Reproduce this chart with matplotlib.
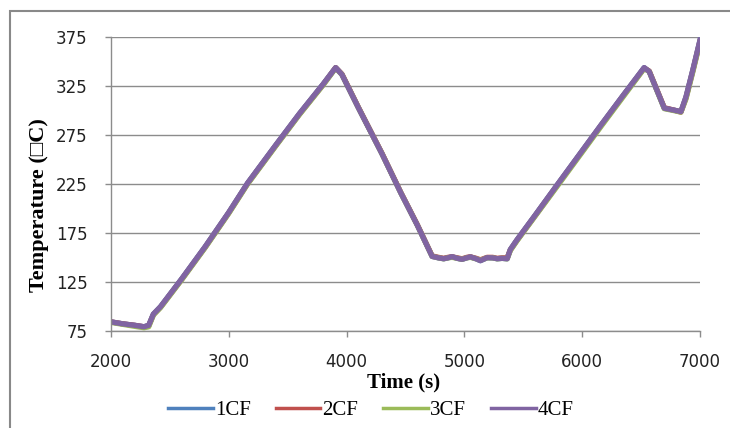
import matplotlib.pyplot as plt
import matplotlib.patches as mpatches

# time (s)
time_s = [2000, 2100, 2200, 2280, 2320, 2360, 2420, 2600, 2800, 3000, 3160, 3400,
          3600, 3800, 3907, 3960, 4100, 4300, 4460, 4600, 4726, 4780, 4824, 4860,
          4895, 4940, 4980, 5020, 5051, 5100, 5136, 5193, 5240, 5278, 5320, 5363,
          5390, 5447, 5600, 5787, 6000, 6158, 6350, 6526, 6569, 6697, 6780, 6838,
          6881, 6940, 7000]

# temperatures for each case
temp_1cf = [84, 82, 80.5, 79, 80.5, 92, 99.5, 128, 161, 196, 226, 265,
            297, 327, 344, 337, 303, 256, 216, 183, 151, 149.5, 148.6, 149.5,
            150.7, 149, 148, 149.5, 150.5, 148.5, 146.6, 149.7, 149.5, 148.6, 149, 148.6,
            158, 168, 193, 224, 259, 285, 316, 344, 340, 302.5, 300.5, 299,
            314, 342, 372]
temp_2cf = [84, 82, 80.5, 79, 80, 91.5, 99, 127.5, 160.5, 195.5, 225.5, 264.5,
            296.5, 326.5, 344, 337.5, 303.5, 256.5, 216.5, 183.5, 151.5, 150, 149, 150,
            150.5, 149.5, 148.5, 150, 150.5, 149, 147.5, 150, 150, 149, 149.5, 149.5,
            157.5, 167.5, 192.5, 223.5, 258.5, 284.5, 315.5, 343.5, 340.5, 303, 300.5, 298.5,
            313, 341, 371]
temp_3cf = [83.5, 81.5, 79.5, 78, 79, 91, 98.5, 127, 160, 195, 225, 264,
            296, 326, 343.5, 337, 303, 256, 216, 183, 151, 149.5, 148.5, 149.5,
            150, 149, 148, 149.5, 150, 148.5, 147, 149.5, 149.5, 148.5, 149, 148.5,
            157, 167, 192, 222.5, 257.5, 283.5, 314.5, 343, 340, 302, 300, 298.5,
            312, 340, 370]
temp_4cf = [84, 82, 80.5, 79, 80.5, 92, 99.5, 128, 161, 196, 226, 265,
            297, 327, 344, 337, 303, 256, 216, 183, 151, 149.5, 148.6, 149.5,
            150.7, 149, 148, 149.5, 150.5, 148.5, 146.6, 149.7, 149.5, 148.6, 149, 148.6,
            158, 168, 193, 224, 259, 285, 316, 344, 340, 302.5, 300.5, 299,
            314, 342, 372]

series = [('1CF', temp_1cf, '#4F81BD'),
          ('2CF', temp_2cf, '#C0504D'),
          ('3CF', temp_3cf, '#9BBB59'),
          ('4CF', temp_4cf, '#8064A2')]

x_ticks = [2000, 3000, 4000, 5000, 6000, 7000]
y_ticks = [75, 125, 175, 225, 275, 325, 375]

serif = ['Liberation Serif', 'DejaVu Serif']

fig = plt.figure(figsize=(7.3, 4.28), dpi=100)
ax = fig.add_axes([111 / 730, 1 - 330.7 / 428, 589 / 730, 293.4 / 428])

for name, temps, color in series:
    ax.plot(time_s, temps, color=color, lw=3.8, label=name, solid_joinstyle='round')

ax.set_xlim(2000, 7000)
ax.set_ylim(75, 375)
ax.set_xticks(x_ticks)
ax.set_yticks(y_ticks)
ax.grid(axis='y', color='#8c8c8c', lw=1.0)
ax.set_axisbelow(True)
for side in ['top', 'right']:
    ax.spines[side].set_visible(False)
for side in ['left', 'bottom']:
    ax.spines[side].set_color('#8c8c8c')
    ax.spines[side].set_linewidth(1.0)
ax.tick_params(axis='both', direction='out', length=4, width=1, color='#8c8c8c',
               labelsize=12, labelcolor='#222222')
ax.tick_params(axis='y', pad=13)
ax.tick_params(axis='x', pad=12)

fig.text(404 / 730, 1 - 382 / 428, 'Time (s)', ha='center', va='center',
         fontsize=15, fontweight='bold', family=serif)
fig.text(39 / 730, 1 - 205 / 428, 'Temperature (\u25a1C)', ha='center', va='center',
         rotation=90, fontsize=16, fontweight='bold', family=serif)

leg = fig.legend(loc='center', bbox_to_anchor=(371 / 730, 1 - 410 / 428), ncol=4,
                 frameon=False, handlelength=2.15, handletextpad=0.1, columnspacing=1.2,
                 prop={'family': serif, 'size': 15})
for line in leg.get_lines():
    line.set_linewidth(2.5)

# outer chart border
border = mpatches.Rectangle((10 / 730, -0.1), 1.2, 1 - 11 / 428 + 0.1,
                            transform=fig.transFigure, fill=False,
                            edgecolor='#898989', lw=1.5, clip_on=False)
fig.patches.append(border)

fig.savefig('out.png', dpi=100)
